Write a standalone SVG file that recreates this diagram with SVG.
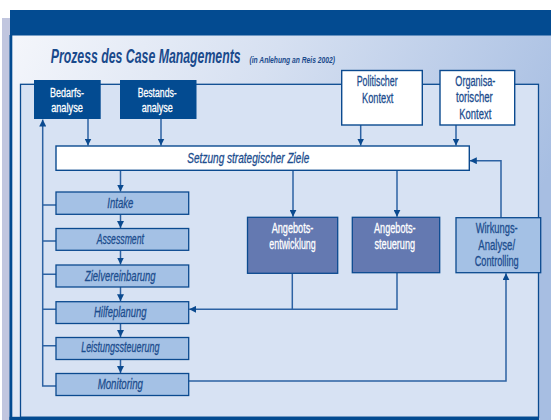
<svg xmlns="http://www.w3.org/2000/svg" width="551" height="420" viewBox="0 0 551 420">
<defs>
<linearGradient id="bg" x1="0" y1="0" x2="1" y2="0.35">
<stop offset="0" stop-color="#f4f6fb"/>
<stop offset="0.45" stop-color="#d6e0f1"/>
<stop offset="1" stop-color="#a7bee2"/>
</linearGradient>
<marker id="ah" viewBox="0 0 10 10" refX="10" refY="5" markerWidth="7" markerHeight="7" markerUnits="userSpaceOnUse" orient="auto">
<path d="M0,0 L10,5 L0,10 z" fill="#0b4a8f"/>
</marker>
<style>
.t{font-family:"Liberation Sans",Arial,sans-serif;}
.dk{fill:#034b91;}
.wb{fill:#ffffff;stroke:#0b4a8f;stroke-width:1.4;}
.pb{fill:#a4c1e5;stroke:#0b4a8f;stroke-width:1.3;}
.sb{fill:#6479b1;stroke:#0b4a8f;stroke-width:1.3;}
.lw{font-size:14px;fill:#ffffff;stroke:#ffffff;stroke-width:0.3;text-anchor:middle;}
.ld{font-size:12.5px;fill:#ffffff;stroke:#ffffff;stroke-width:0.3;text-anchor:middle;}
.lb{font-size:14px;fill:#1c4d8e;stroke:#1c4d8e;stroke-width:0.3;text-anchor:middle;}
.li{font-size:14px;fill:#1c4d8e;stroke:#1c4d8e;stroke-width:0.3;text-anchor:middle;font-style:italic;}
.c{fill:none;stroke:#2d62a3;stroke-width:1.5;}
</style>
</defs>

<!-- frame -->
<rect x="2" y="18" width="8" height="402" fill="#c1c6df"/>
<rect x="12" y="35" width="539" height="385" fill="url(#bg)"/>
<rect x="10" y="10" width="541" height="25.5" fill="#034b91"/>
<rect x="9.5" y="35" width="2.8" height="385" fill="#034b91"/>
<rect x="20.5" y="84.3" width="518" height="333" fill="#d7e2f3" stroke="#0b4a8f" stroke-width="1.3"/>
<rect x="9.5" y="416.8" width="529.5" height="3.2" fill="#034b91"/>

<g id="title">
<text class="t" transform="translate(50.7,63.3) scale(0.615,1)" x="0" y="0" font-size="20" font-style="italic" font-weight="bold" fill="#1a4a8c">Prozess des Case Managements</text>
<text class="t" transform="translate(249.5,63) scale(0.79,1)" x="0" y="0" font-size="8.5" font-style="italic" font-weight="bold" fill="#1a4a8c">(in Anlehung an Reis 2002)</text>
</g>

<!-- connectors -->
<g id="connectors">
<path class="c" d="M88,119 V145.5" marker-end="url(#ah)"/>
<path class="c" d="M161,119 V145.5" marker-end="url(#ah)"/>
<path class="c" d="M360.7,125 V145.5" marker-end="url(#ah)"/>
<path class="c" d="M456,125 V145.5" marker-end="url(#ah)"/>
<path class="c" d="M120.5,170.3 V191.5" marker-end="url(#ah)"/>
<path class="c" d="M120.5,214.3 V228" marker-end="url(#ah)"/>
<path class="c" d="M120.5,250.3 V264.5" marker-end="url(#ah)"/>
<path class="c" d="M120.5,287 V301.2" marker-end="url(#ah)"/>
<path class="c" d="M120.5,323.5 V337" marker-end="url(#ah)"/>
<path class="c" d="M120.5,359.5 V373" marker-end="url(#ah)"/>
<path class="c" d="M293,170.3 V216.8" marker-end="url(#ah)"/>
<path class="c" d="M397,170.3 V216.8" marker-end="url(#ah)"/>
<path class="c" d="M501,217.7 V160.7 H469.8" marker-end="url(#ah)"/>
<path class="c" d="M292.3,273.3 V309.3"/>
<path class="c" d="M397,272.7 V309.3 H189.2" marker-end="url(#ah)"/>
<path class="c" d="M188.7,381 H506 V273.2" marker-end="url(#ah)"/>
<path class="c" d="M56,386 H42.7 V119.5" marker-end="url(#ah)"/>
<path class="c" d="M42.7,205 H56 M42.7,241 H56 M42.7,274.3 H56 M42.7,309.3 H56 M42.7,345.7 H56"/>
</g>

<g id="bedarfsanalyse">
<rect class="dk" x="34" y="80" width="66.7" height="39"/>
<text class="t ld" x="67" y="97" textLength="34" lengthAdjust="spacingAndGlyphs">Bedarfs-</text>
<text class="t ld" x="67" y="111.5" textLength="31.7" lengthAdjust="spacingAndGlyphs">analyse</text>
</g>
<g id="bestandsanalyse">
<rect class="dk" x="120" y="80" width="76.5" height="39"/>
<text class="t ld" x="157.2" y="97" textLength="39" lengthAdjust="spacingAndGlyphs">Bestands-</text>
<text class="t ld" x="157.2" y="111.5" textLength="31" lengthAdjust="spacingAndGlyphs">analyse</text>
</g>
<g id="politischer-kontext">
<rect class="wb" x="341.7" y="70.5" width="80.6" height="54.5"/>
<text class="t lb" x="377.2" y="86" textLength="41" lengthAdjust="spacingAndGlyphs">Politischer</text>
<text class="t lb" x="377.7" y="103.3" textLength="31.3" lengthAdjust="spacingAndGlyphs">Kontext</text>
</g>
<g id="organisatorischer-kontext">
<rect class="wb" x="440" y="70.5" width="74.7" height="54.5"/>
<text class="t lb" x="475.3" y="85.5" textLength="40" lengthAdjust="spacingAndGlyphs">Organisa-</text>
<text class="t lb" x="474.4" y="102" textLength="36.7" lengthAdjust="spacingAndGlyphs">torischer</text>
<text class="t lb" x="475.3" y="118.5" textLength="32" lengthAdjust="spacingAndGlyphs">Kontext</text>
</g>
<g id="setzung">
<rect class="wb" x="56" y="146" width="413.3" height="24.3"/>
<text class="t" x="187.3" y="163.3" font-size="14" font-style="italic" fill="#1c4d8e" stroke="#1c4d8e" stroke-width="0.3" textLength="122" lengthAdjust="spacingAndGlyphs">Setzung strategischer Ziele</text>
</g>
<g id="intake">
<rect class="pb" x="56" y="192" width="132.7" height="22.3"/>
<text class="t li" x="120.3" y="208.3" textLength="26" lengthAdjust="spacingAndGlyphs">Intake</text>
</g>
<g id="assessment">
<rect class="pb" x="56" y="228.5" width="132.7" height="21.8"/>
<text class="t li" x="120.3" y="244.3" textLength="47.3" lengthAdjust="spacingAndGlyphs">Assessment</text>
</g>
<g id="zielvereinbarung">
<rect class="pb" x="56" y="265" width="132.7" height="22"/>
<text class="t li" x="120.3" y="280.5" textLength="70.7" lengthAdjust="spacingAndGlyphs">Zielvereinbarung</text>
</g>
<g id="hilfeplanung">
<rect class="pb" x="56" y="301.7" width="132.7" height="21.8"/>
<text class="t li" x="120.3" y="316.7" textLength="52.7" lengthAdjust="spacingAndGlyphs">Hilfeplanung</text>
</g>
<g id="leistungssteuerung">
<rect class="pb" x="56" y="337.5" width="132.7" height="22"/>
<text class="t li" x="120.3" y="352" textLength="78.3" lengthAdjust="spacingAndGlyphs">Leistungssteuerung</text>
</g>
<g id="monitoring">
<rect class="pb" x="56" y="373.5" width="132.7" height="22"/>
<text class="t li" x="120.3" y="388.5" textLength="45.3" lengthAdjust="spacingAndGlyphs">Monitoring</text>
</g>
<g id="angebotsentwicklung">
<rect class="sb" x="247.5" y="217.3" width="90.2" height="56"/>
<text class="t lw" x="292.5" y="232.5" textLength="41.7" lengthAdjust="spacingAndGlyphs">Angebots-</text>
<text class="t lw" x="292.5" y="248.5" textLength="46.4" lengthAdjust="spacingAndGlyphs">entwicklung</text>
</g>
<g id="angebotssteuerung">
<rect class="sb" x="352.3" y="217.3" width="87.4" height="55.4"/>
<text class="t lw" x="394.8" y="232.5" textLength="41.7" lengthAdjust="spacingAndGlyphs">Angebots-</text>
<text class="t lw" x="394.8" y="248.5" textLength="40.7" lengthAdjust="spacingAndGlyphs">steuerung</text>
</g>
<g id="wirkungsanalyse">
<rect class="pb" x="456" y="217.7" width="84.7" height="55"/>
<text class="t lb" x="496.7" y="233.3" textLength="42" lengthAdjust="spacingAndGlyphs">Wirkungs-</text>
<text class="t lb" x="496.7" y="249.5" textLength="36.7" lengthAdjust="spacingAndGlyphs">Analyse/</text>
<text class="t lb" x="496.7" y="265.7" textLength="44" lengthAdjust="spacingAndGlyphs">Controlling</text>
</g>
</svg>
